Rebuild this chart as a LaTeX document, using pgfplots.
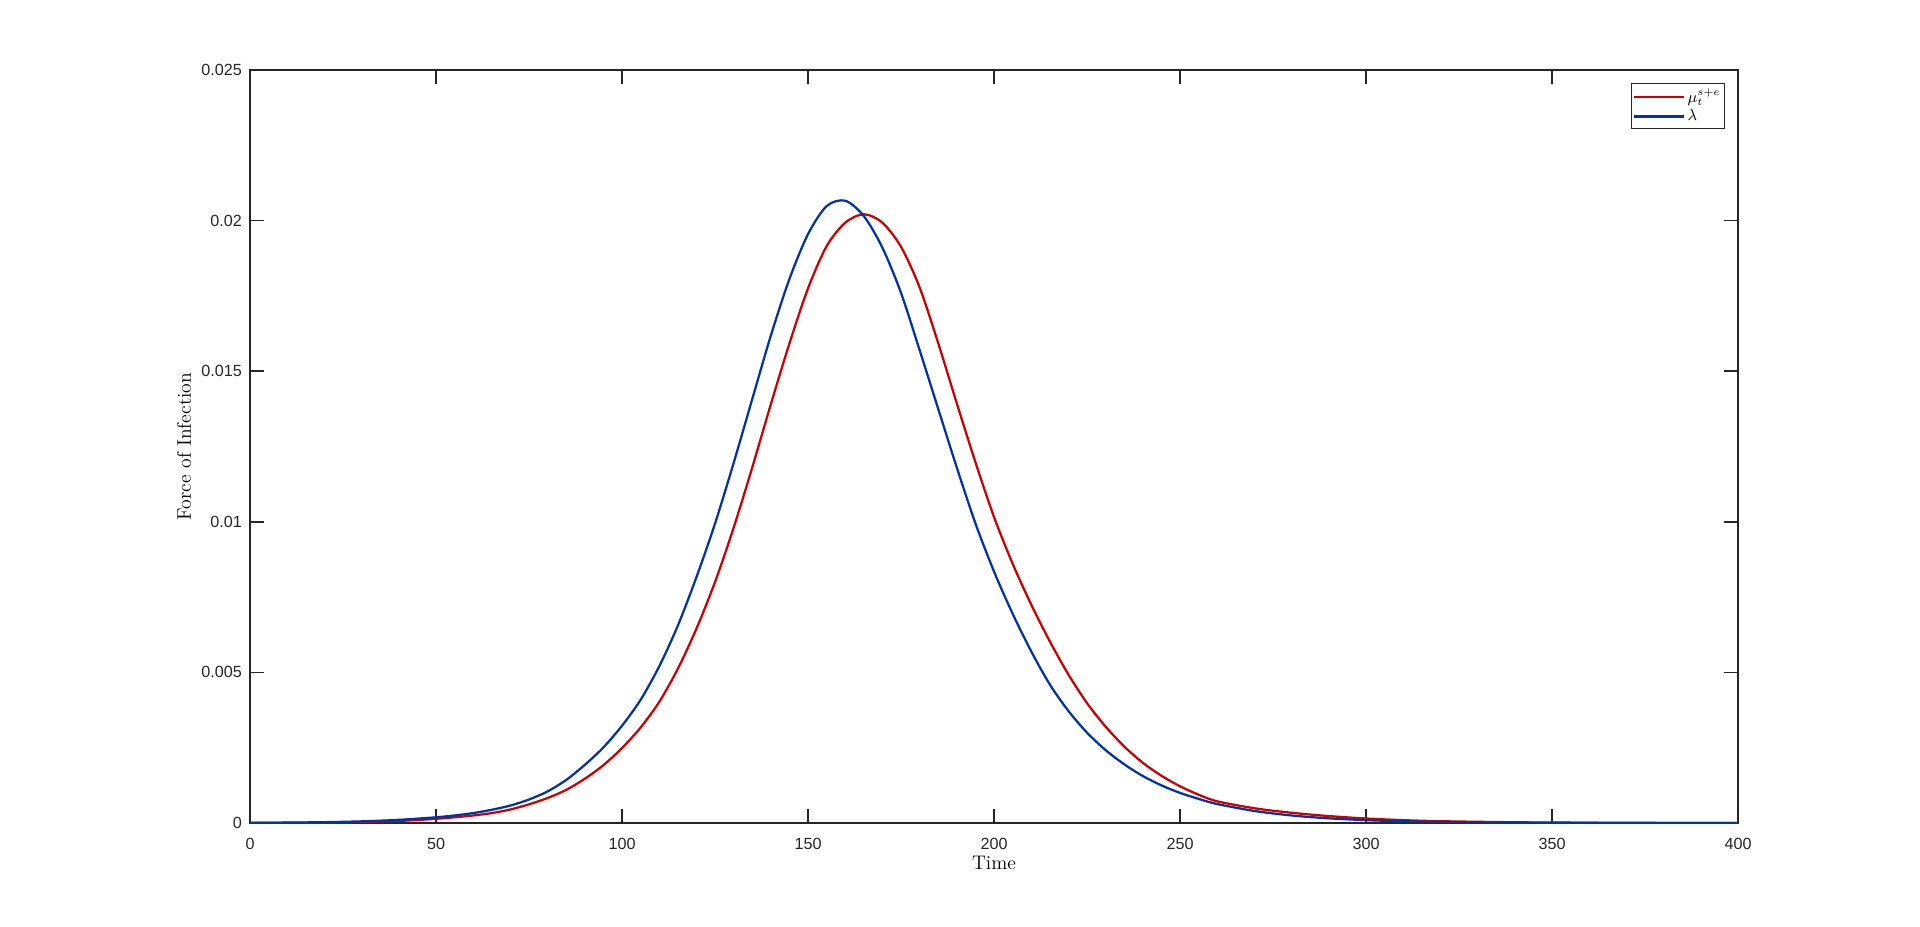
\documentclass[border=0pt]{standalone}
\usepackage{fontspec}
\usepackage{pgfplots}
\pgfplotsset{compat=1.18}
\newfontfamily\arialfont{Liberation Sans}
\definecolor{lred}{RGB}{204,0,0}
\definecolor{lblue}{RGB}{0,51,170}
\definecolor{axgray}{RGB}{38,38,38}

\begin{document}
\begin{tikzpicture}
\path[use as bounding box] (0,0) rectangle (384mm,185.2mm);
\begin{axis}[
    at={(50mm,20.6mm)}, anchor=south west,
    scale only axis, width=297.6mm, height=150.6mm,
    xmin=0, xmax=400, ymin=0, ymax=0.025,
    xtick={0,50,...,400},
    xticklabels={0,50,100,150,200,250,300,350,400},
    ytick={0,0.005,0.01,0.015,0.02,0.025},
    yticklabels={0,0.005,0.01,0.015,0.02,0.025},
    scaled y ticks=false,
    tick align=inside, major tick length=2.8mm,
    axis line style={axgray, line width=0.3mm},
    every tick/.style={axgray, line width=0.3mm},
    tick label style={font=\arialfont\fontsize{9.2}{9.2}\selectfont, text=axgray},
    xticklabel style={yshift=-1.75mm},
    yticklabel style={xshift=-0.4mm},
    xlabel={Time}, ylabel={Force of Infection},
    label style={font=\fontsize{11.2}{11.2}\selectfont},
    xlabel style={at={(axis description cs:0.5,-0.0531)}, anchor=center},
    ylabel style={at={(axis description cs:-0.0443,0.5)}, anchor=center},
    legend style={at={(1,1)}, anchor=north east, xshift=-2.6mm, yshift=-2.6mm,
        draw=axgray, line width=0.2mm, font=\fontsize{8.8}{8.8}\selectfont,
        inner xsep=0.4mm, inner ysep=1.0mm, row sep=1.0mm,
        nodes={inner xsep=0.4mm, inner ysep=0mm}, cells={anchor=west}},
    legend image code/.code={\draw[#1] (0mm,0mm) -- (10mm,0mm);},
]
% mu_t^{s+e}
\addplot[lred, line width=0.45mm, smooth] coordinates {
(0,0.000004) (10,0.000008) (20,0.000016) (30,0.000035) (40,0.00007) (45,0.00010)
(50,0.00014) (55,0.00019) (60,0.00025) (65,0.00033) (70,0.00045) (75,0.00062)
(80,0.00083) (85,0.00110) (90,0.00147) (95,0.00192) (100,0.00249) (105,0.00317)
(110,0.00402) (115,0.00512) (120,0.00645) (125,0.00800) (130,0.00980) (135,0.01180)
(140,0.01390) (145,0.01592) (150,0.01775) (155,0.01915) (160,0.01993) (165,0.02021)
(170,0.01993) (175,0.01913) (180,0.01778) (185,0.01593) (190,0.01393) (195,0.01198)
(200,0.01016) (205,0.00861) (210,0.00725) (215,0.00603) (220,0.00493) (225,0.00398)
(230,0.00320) (235,0.00254) (240,0.00200) (245,0.00157) (250,0.00122) (255,0.00094)
(260,0.00072) (270,0.00049) (280,0.00034) (290,0.00023) (300,0.00015) (310,0.000095)
(320,0.00006) (340,0.000025) (360,0.00001) (380,0.000004) (400,0.000002)
};
% lambda
\addplot[lblue, line width=0.45mm, smooth] coordinates {
(0,0.000007) (10,0.000014) (20,0.000028) (30,0.000055) (40,0.000105) (50,0.00019)
(55,0.00025) (60,0.00033) (65,0.00044) (70,0.00058) (75,0.00078) (80,0.00105)
(85,0.00143) (90,0.00193) (95,0.00251) (100,0.00323) (105,0.00409) (110,0.00520)
(115,0.00655) (120,0.00816) (125,0.00994) (130,0.01195) (135,0.01407) (140,0.01618)
(145,0.01806) (150,0.01955) (155,0.02048) (160,0.02066) (165,0.02015)
(170,0.01910) (175,0.01760) (180,0.01570) (185,0.01375) (190,0.01180) (195,0.00995)
(200,0.00835) (205,0.00695) (210,0.00570) (215,0.00460) (220,0.00372) (225,0.00300)
(230,0.00242) (235,0.00195) (240,0.00156) (245,0.00125) (250,0.00100) (255,0.00080)
(260,0.00063) (270,0.00040) (280,0.00025) (290,0.000155) (300,0.000095) (310,0.000058)
(320,0.000035) (340,0.000013) (360,0.000005) (380,0.000002) (400,0.000001)
};
\legend{$\mu_t^{s+e}$, $\lambda$}
\end{axis}
\end{tikzpicture}
\end{document}
